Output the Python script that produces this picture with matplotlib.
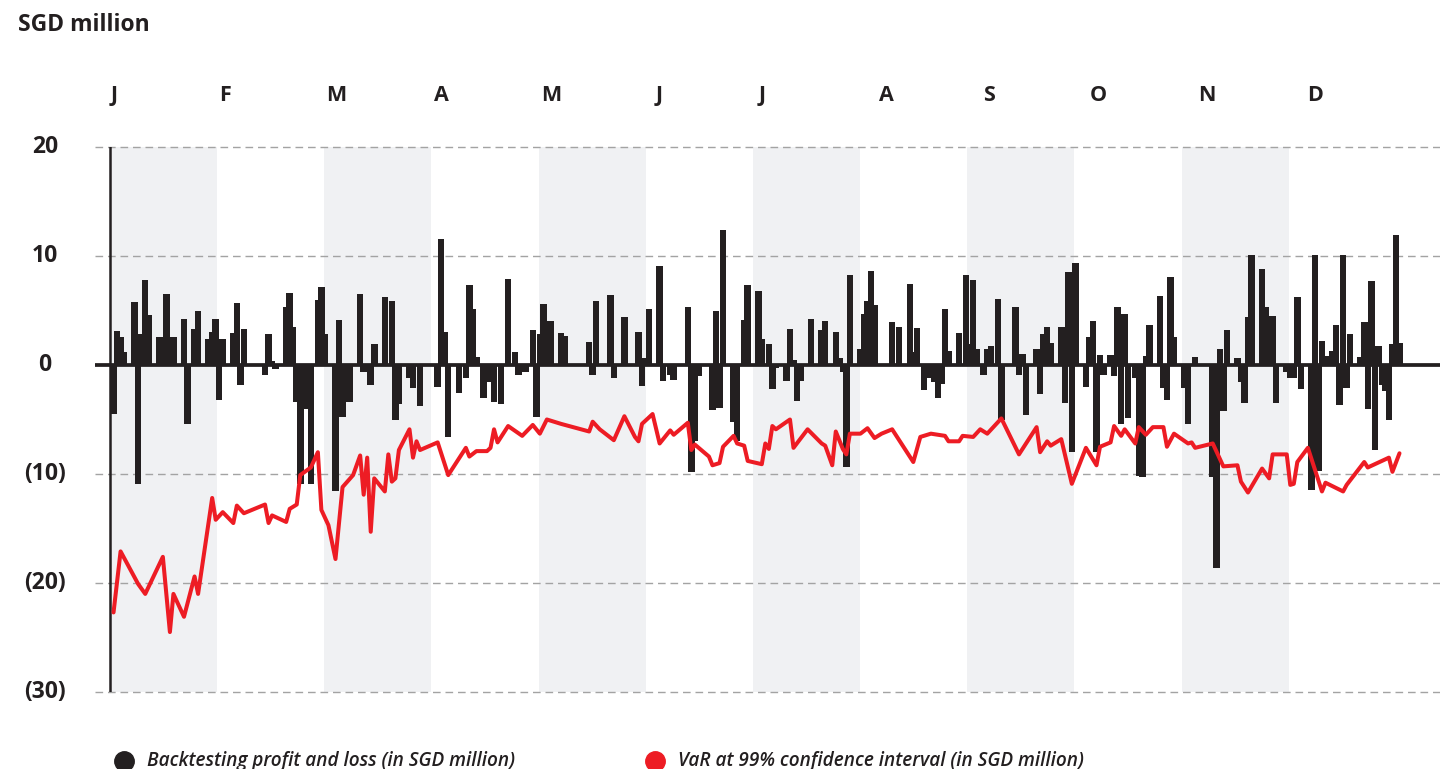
import matplotlib
matplotlib.use('Agg')
import matplotlib.pyplot as plt

plt.rcParams['font.family'] = ['Open Sans', 'DejaVu Sans']

# daily backtesting P&L (day of year, SGD million)
pnl_day = [
    1, 2, 3, 4, 7, 8, 9, 10, 11, 14,
    15, 16, 18, 21, 22, 24, 25, 28, 29, 30,
    31, 32, 35, 36, 37, 38, 44, 45, 46, 47,
    50, 51, 52, 53, 54, 56, 57, 59, 60, 61,
    64, 65, 66, 67, 68, 71, 72, 74, 75, 78,
    80, 81, 82, 85, 86, 88, 93, 94, 95, 96,
    99, 101, 102, 103, 104, 106, 108, 109, 111, 113,
    115, 116, 118, 120, 121, 122, 123, 125, 128, 129,
    136, 137, 138, 142, 143, 146, 150, 151, 152, 153,
    156, 157, 159, 160, 164, 165, 166, 167, 171, 172,
    173, 174, 177, 178, 180, 181, 184, 185, 187, 188,
    189, 192, 193, 194, 195, 196, 199, 202, 203, 206,
    207, 208, 209, 210, 213, 214, 215, 216, 217, 222,
    224, 227, 228, 229, 231, 232, 234, 235, 236, 237,
    238, 241, 243, 244, 245, 246, 248, 249, 250, 252,
    253, 257, 258, 259, 260, 263, 264, 265, 266, 267,
    270, 271, 272, 273, 274, 277, 278, 279, 280, 281,
    282, 284, 285, 286, 287, 288, 289, 291, 292, 293,
    294, 295, 298, 299, 300, 301, 302, 305, 306, 308,
    313, 314, 315, 316, 317, 320, 321, 322, 323, 324,
    327, 328, 329, 330, 331, 334, 335, 336, 337, 338,
    341, 342, 343, 344, 345, 347, 348, 349, 350, 351,
    352, 355, 356, 357, 358, 359, 360, 361, 362, 363,
    364, 365, 366,
]
pnl = [
    -4.5, 3.1, 2.6, 1.2, 5.8, -10.9, 2.8, 7.8, 4.6, 2.6,
    1.5, 6.5, 2.6, 4.2, -5.4, 3.3, 5.0, 2.4, 3.0, 4.2,
    -3.2, 2.4, 2.9, 5.7, -1.8, 3.3, -0.9, 2.8, 0.4, -0.4,
    5.3, 6.6, 3.5, -3.4, -10.9, -4.0, -10.9, 6.0, 7.2, 2.8,
    -11.6, 4.1, -4.8, -1.6, -3.4, 6.5, -0.6, -1.8, 1.9, 6.2,
    5.9, -5.0, -3.6, -1.2, -2.1, -3.8, -2.0, 11.6, 3.0, -6.6,
    -2.6, -1.2, 7.3, 5.1, 0.7, -3.0, -1.6, -3.4, -3.6, 7.9,
    1.2, -0.9, -0.6, 3.2, -4.8, 2.8, 5.6, 4.0, 2.9, 2.7,
    2.1, -0.9, 5.9, 6.4, -1.2, 4.4, 3.0, -1.9, 0.6, 5.1,
    9.1, -1.5, -0.9, -1.4, 5.3, -9.8, -7.0, -1.0, -4.1, 5.0,
    -3.9, 12.4, -5.2, -7.0, 4.1, 7.3, 6.8, 2.4, 1.9, -2.2,
    -0.3, -1.5, 3.3, 0.5, -3.3, -1.5, 4.2, 3.2, 4.0, 3.0,
    0.6, -0.6, -9.4, 8.3, 1.5, 4.7, 5.9, 8.6, 5.5, 3.9,
    3.5, 7.4, 1.2, 3.4, -2.3, -1.2, -1.6, -3.0, -1.7, 5.1,
    1.3, 2.9, 8.3, 1.9, 7.8, 1.5, -0.9, 1.5, 1.7, 6.1,
    -5.0, 5.3, -0.9, 1.0, -4.6, 1.5, -2.7, 2.8, 3.5, 2.0,
    3.5, -3.5, 8.5, -8.0, 9.4, -2.0, 2.6, 4.0, -8.0, 0.9,
    -0.9, 0.9, -1.0, 5.3, -5.4, 4.7, -4.9, -1.2, -10.2, -10.3,
    0.8, 3.7, 6.3, -2.1, -3.2, 8.1, 2.6, -2.1, -5.4, 0.7,
    -10.3, -18.6, 1.5, -4.2, 3.2, 0.6, -1.6, -3.5, 4.4, 10.1,
    8.8, 5.3, 3.7, 4.5, -3.5, -0.6, -1.2, -1.2, 6.2, -2.2,
    -11.5, 10.1, -9.7, 2.2, 0.8, 1.3, 3.7, -3.7, 10.1, -2.1,
    2.8, 0.7, 3.9, -4.0, 7.7, -7.8, 1.7, -1.8, -2.4, -5.0,
    1.9, 11.9, 2.0,
]

# VaR at 99% (day of year, SGD million)
var_day = [
    1, 3, 8, 10, 15, 17, 18, 21, 24, 25,
    29, 30, 32, 35, 36, 38, 44, 45, 46, 50,
    51, 53, 54, 57, 59, 60, 62, 64, 66, 69,
    71, 72, 73, 74, 75, 78, 79, 80, 81, 82,
    85, 86, 87, 88, 93, 96, 101, 102, 104, 107,
    108, 109, 110, 113, 117, 120, 122, 124, 128, 136,
    137, 139, 143, 146, 149, 150, 151, 154, 156, 159,
    160, 164, 165, 166, 170, 171, 173, 174, 177, 178,
    180, 181, 185, 186, 187, 188, 189, 193, 194, 198,
    202, 203, 205, 206, 208, 209, 210, 213, 215, 217,
    219, 222, 228, 230, 233, 237, 238, 241, 242, 245,
    247, 249, 253, 258, 263, 264, 266, 267, 270, 273,
    277, 280, 281, 284, 285, 287, 288, 291, 292, 294,
    296, 299, 300, 302, 306, 307, 308, 313, 316, 320,
    321, 323, 327, 329, 330, 334, 335, 336, 337, 340,
    344, 345, 350, 351, 356, 357, 363, 364, 366,
]
var = [
    -22.7, -17.1, -20.1, -21.0, -17.6, -24.5, -21.0, -23.1, -19.4, -21.0,
    -12.2, -14.2, -13.5, -14.5, -12.9, -13.6, -12.8, -14.5, -13.8, -14.4,
    -13.2, -12.8, -10.1, -9.4, -8.0, -13.3, -14.7, -17.8, -11.2, -10.1,
    -8.3, -11.9, -8.5, -15.3, -10.4, -11.6, -8.2, -10.7, -10.4, -7.8,
    -5.9, -8.5, -7.0, -7.8, -7.1, -10.1, -7.6, -8.4, -7.9, -7.9,
    -7.6, -5.9, -7.1, -5.6, -6.5, -5.5, -6.3, -5.0, -5.4, -6.1,
    -5.2, -5.9, -6.9, -4.7, -6.6, -7.0, -5.4, -4.5, -7.2, -6.0,
    -6.4, -5.3, -7.8, -7.3, -8.4, -9.2, -9.0, -7.5, -6.5, -7.2,
    -7.4, -8.8, -9.1, -7.2, -7.7, -5.6, -5.9, -5.0, -7.6, -5.9,
    -7.2, -7.4, -9.2, -6.1, -7.7, -8.2, -6.3, -6.3, -5.8, -6.7,
    -6.3, -5.9, -8.9, -6.6, -6.3, -6.5, -7.0, -7.0, -6.5, -6.6,
    -5.9, -6.3, -4.9, -8.2, -5.7, -8.0, -7.0, -7.4, -6.8, -10.9,
    -7.6, -9.2, -7.5, -7.1, -5.6, -6.5, -5.9, -7.2, -5.7, -6.4,
    -5.7, -5.7, -7.5, -6.3, -7.2, -7.1, -7.6, -7.2, -9.3, -9.2,
    -10.7, -11.7, -9.5, -10.4, -8.2, -8.2, -11.0, -10.9, -8.9, -7.6,
    -11.6, -10.8, -11.6, -11.0, -8.9, -9.4, -8.5, -9.8, -8.1,
]

months = ['J', 'F', 'M', 'A', 'M', 'J', 'J', 'A', 'S', 'O', 'N', 'D']
month_label_day = [1.1, 32.6, 64.2, 94.0, 125.2, 155.8, 185.1, 220.3, 249.5, 280.4, 311.4, 342.0]
y_ticks = [20, 10, 0, -10, -20, -30]
y_labels = ['20', '10', '0', '(10)', '(20)', '(30)']

DARK = '#231F20'
RED = '#ED1C24'
SHADE = '#F0F1F3'
GRID = '#A3A3A3'
YEAR = 365.0


def main():
    fig = plt.figure(figsize=(14.4, 7.69), dpi=100)
    ax = fig.add_axes([95 / 1440, 77 / 769, 1345 / 1440, 545 / 769])
    ax.set_xlim(-4.26, 377.5)
    ax.set_ylim(-30, 20)
    ax.set_axis_off()

    # alternate month shading
    for k in range(0, 12, 2):
        ax.axvspan(k * YEAR / 12, (k + 1) * YEAR / 12, color=SHADE, lw=0, zorder=0)

    for v in y_ticks:
        if v != 0:
            ax.axhline(v, color=GRID, lw=1.0, ls=(0, (5.5, 3.5)), clip_on=False, zorder=1)

    ax.bar(pnl_day, pnl, width=1.85, color=DARK, lw=0, zorder=2)
    ax.axhline(0, color=DARK, lw=2.7, zorder=4)
    ax.axvline(0, color=DARK, lw=1.8, zorder=4)
    ax.plot(var_day, var, color=RED, lw=2.9, solid_joinstyle='round',
            solid_capstyle='round', zorder=5)

    for d, m in zip(month_label_day, months):
        ax.text(d, 1.0954, m, transform=ax.get_xaxis_transform(), ha='center', va='center',
                fontsize=15.5, fontweight='bold', color=DARK)
    for v, lbl in zip(y_ticks, y_labels):
        ax.text(-0.0372, v, lbl, transform=ax.get_yaxis_transform(), ha='center', va='center',
                fontsize=16.5, fontweight='bold', color=DARK)

    fig.text(18 / 1440, 1 - 25 / 769, 'SGD million', fontsize=16.5, fontweight='bold',
             color=DARK, va='center', ha='left')

    # legend along the bottom edge
    ly = 8 / 769
    ax.plot([124 / 1440], [ly], 'o', ms=14, color=DARK, transform=fig.transFigure, clip_on=False)
    ax.plot([655 / 1440], [ly], 'o', ms=14, color=RED, transform=fig.transFigure, clip_on=False)
    fig.text(147 / 1440, ly, 'Backtesting profit and loss (in SGD million)', fontsize=13.7,
             style='italic', fontweight='semibold', color=DARK, va='center', ha='left')
    fig.text(678 / 1440, ly, 'VaR at 99% confidence interval (in SGD million)', fontsize=13.7,
             style='italic', fontweight='semibold', color=DARK, va='center', ha='left')

    fig.savefig('out.png', dpi=100)


if __name__ == '__main__':
    main()
